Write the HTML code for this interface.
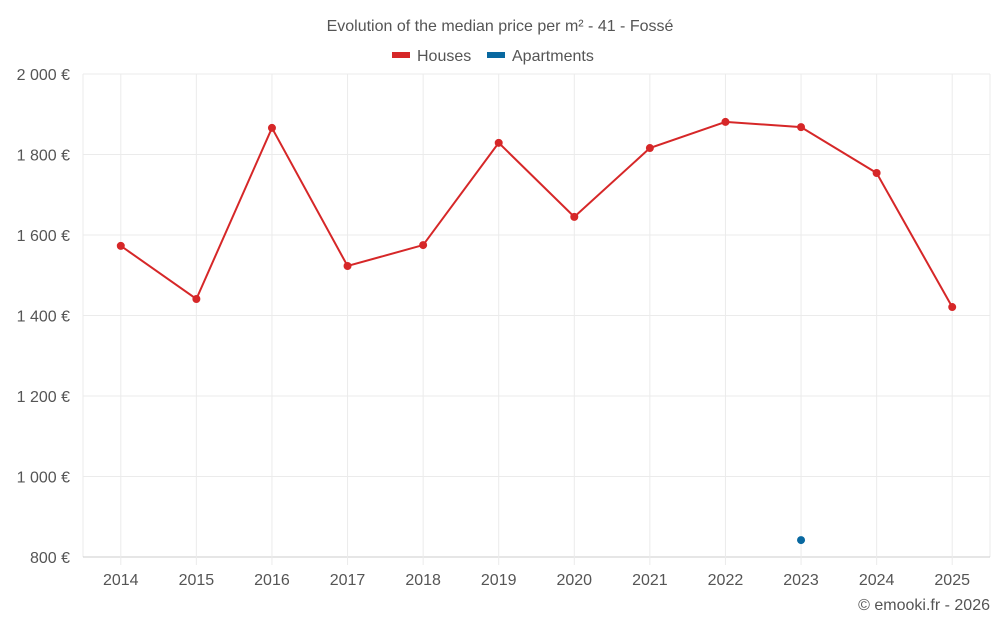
<!DOCTYPE html>
<html><head><meta charset="utf-8"><style>
body{margin:0;background:#fff;font-family:"Liberation Sans",sans-serif;}
svg text{font-family:"Liberation Sans",sans-serif;}
</style></head><body>
<svg id="chart" width="1000" height="625" viewBox="0 0 1000 625">
<text x="500" y="31" text-anchor="middle" font-size="16" fill="#555">Evolution of the median price per m² - 41 - Fossé</text>
<g>
<g><rect x="392" y="52" width="18" height="6" fill="#d62728"/><text x="417" y="61" font-size="16" fill="#555">Houses</text></g>
<g><rect x="487" y="52" width="18" height="6" fill="#0868a0"/><text x="512" y="61" font-size="16" fill="#555">Apartments</text></g>
</g>
<g id="grid"></g><g id="axes"></g><g id="series"></g>
<text x="990" y="610" text-anchor="end" font-size="16" fill="#555">© emooki.fr - 2026</text>
</svg>
<script>
const years=["2014","2015","2016","2017","2018","2019","2020","2021","2022","2023","2024","2025"];
const houses=[1573,1441,1866,1523,1575,1829,1645,1816,1881,1868,1754,1421];
const apartments=[null,null,null,null,null,null,null,null,null,842,null,null];
const yTicks=[800,1000,1200,1400,1600,1800,2000];
const yLabels=["800 €","1 000 €","1 200 €","1 400 €","1 600 €","1 800 €","2 000 €"];
const L=83,R=990,T=74,B=557,yMin=800,yMax=2000;
const NS="http://www.w3.org/2000/svg";
const bw=(R-L)/years.length;
const x=i=>L+bw*(i+0.5);
const y=v=>B-(v-yMin)/(yMax-yMin)*(B-T);
function mk(tag,attrs,parent,txt){const e=document.createElementNS(NS,tag);for(const k in attrs)e.setAttribute(k,attrs[k]);if(txt!=null)e.textContent=txt;document.getElementById(parent).appendChild(e);return e;}
[L,R].forEach(px=>{
 const g=mk("line",{x1:px,x2:px,y1:T,y2:B,stroke:"#ebebeb","stroke-width":1},"grid");
 
 
});
yTicks.forEach((t,i)=>{
 const g=mk("line",{x1:L,x2:R,y1:y(t),y2:y(t),stroke:i==0?"#ccc":"#ebebeb","stroke-width":1},"grid");
 
 
 const tx=mk("text",{x:70,y:y(t)+6,"text-anchor":"end","font-size":16,fill:"#555"},"axes",yLabels[i]);
 
 
});
years.forEach((yr,i)=>{
 const g=mk("line",{x1:x(i),x2:x(i),y1:T,y2:B+8,stroke:"#ebebeb","stroke-width":1},"grid");
 
 
 const tx=mk("text",{x:x(i),y:585,"text-anchor":"middle","font-size":16,fill:"#555"},"axes",yr);
 
 
});
const pts=houses.map((v,i)=>v==null?null:[x(i),y(v)]).filter(p=>p);
const pl=mk("polyline",{points:pts.map(p=>p.join(",")).join(" "),fill:"none",stroke:"#d62728","stroke-width":2},"series");


houses.forEach((v,i)=>{if(v==null)return;
 const c=mk("circle",{cx:x(i),cy:y(v),r:4,fill:"#d62728"},"series");
 
 
});
apartments.forEach((v,i)=>{if(v==null)return;
 const c=mk("circle",{cx:x(i),cy:y(v),r:4,fill:"#0868a0"},"series");
 
 
});
</script>
</body></html>
